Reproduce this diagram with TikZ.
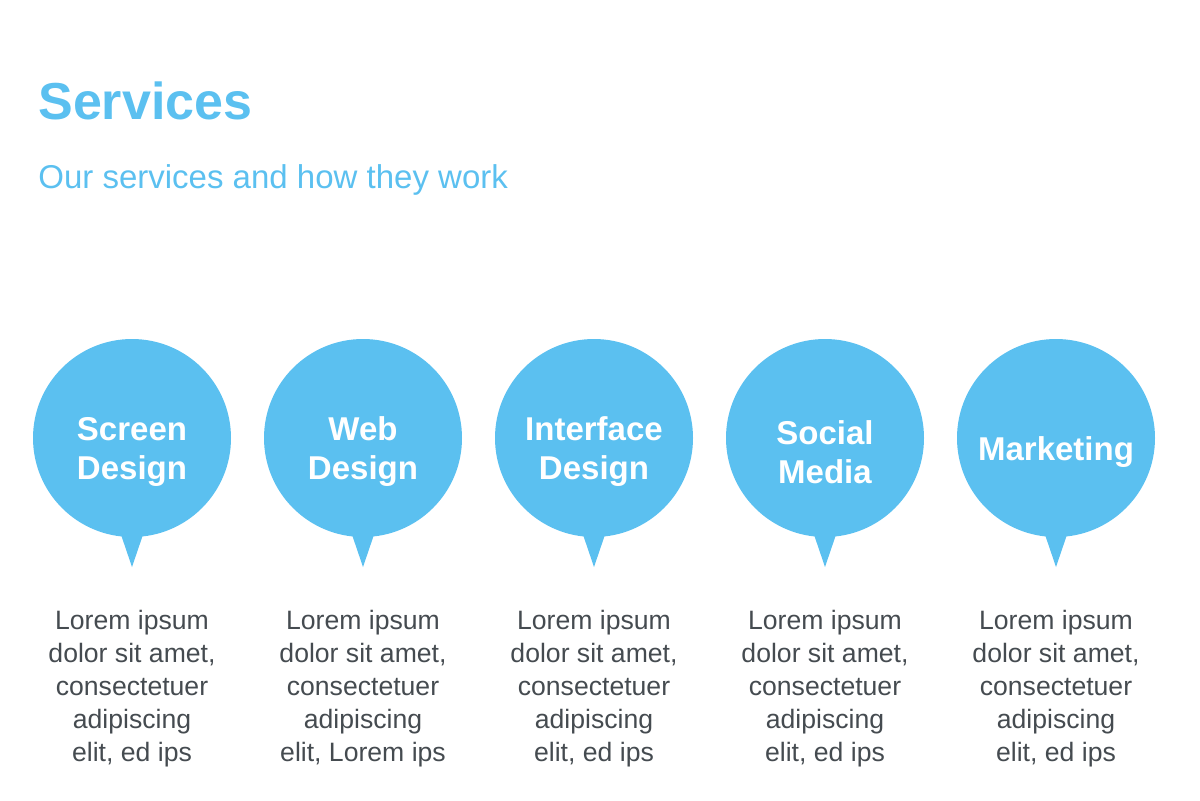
\documentclass[tikz,border=0pt]{standalone}
\usepackage{fontspec}
\setmainfont{Liberation Sans}
\definecolor{sky}{HTML}{5BC0F0}
\definecolor{body}{HTML}{454B50}
\begin{document}
\begin{tikzpicture}[x=0.5pt,y=-0.5pt,
  bubble/.style={circle,fill=sky,minimum size=99pt,inner sep=0pt},
  btext/.style={text=white,font=\fontsize{16.5}{19.5}\selectfont\bfseries,align=center},
  desc/.style={text=body,font=\fontsize{13.3}{16.5}\selectfont,align=center,anchor=north}]
\useasboundingbox (0,0) rectangle (1200,800);
\node[anchor=west,inner sep=0pt,text=sky,font=\fontsize{26}{30}\selectfont\bfseries] (title) at (38,101) {Services};
\node[anchor=west,inner sep=0pt,text=sky,font=\fontsize{16.5}{20}\selectfont] (sub) at (38,180) {Our services and how they work};
\foreach \x/\t/\d [count=\i] in {132/{Screen\\Design}/{elit, ed ips},363/{Web\\Design}/{elit, Lorem ips},594/{Interface\\Design}/{elit, ed ips},825/{Social\\Media}/{elit, ed ips},1056/{Marketing}/{elit, ed ips}}{
  \fill[sky] (\x-16,520) -- (\x+16,520) -- (\x,567) -- cycle;
  \node[bubble] (b\i) at (\x,438) {};
  \node[btext] (t\i) at (\x,452) {\t};
  \node[desc] (d\i) at (\x,603) {Lorem ipsum\\dolor sit amet,\\consectetuer\\adipiscing\\\d};
}
\end{tikzpicture}
\end{document}
